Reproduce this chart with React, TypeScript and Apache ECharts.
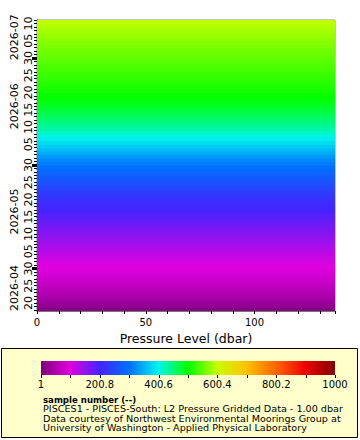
import React, { useEffect, useRef } from 'react';
import * as echarts from 'echarts';

// ---- data ----
// sample number per day row (day starts at 00:00 UTC)
const aprSamples = [1, 10, 22, 34, 44, 51, 58, 65, 72, 78, 84, 90, 95, 100]; // Apr 17..30
const maySamples = [106, 112, 118, 124, 130, 136, 142, 148, 154, 160, 166, 172, 178, 184, 190, 196, 202, 208, 214, 220, 229, 238, 247, 256, 265, 274, 283, 292, 301, 310, 319]; // May 1..31
const junSamples = [332, 345, 358, 371, 383, 395, 407, 419, 430, 439, 448, 456, 464, 472, 480, 487, 494, 500, 505, 510, 514, 518, 522, 526, 530, 534, 538, 542, 546, 550]; // Jun 1..30
const julSamples = [554, 558, 563, 567, 572, 576, 581, 585, 590, 595]; // Jul 1..10

const monthLabels = ['2026-04', '2026-05', '2026-06', '2026-07'];
const monthFirstDays = [17, 1, 1, 1];
const dayLabelDays = [5, 10, 15, 20, 25, 30];
const monthMarkDays = [30];

const pressureExtent = [0, 137];
const xTickLabels = [0, 50, 100];

const colorbarMin = 1;
const colorbarMax = 1000;
const colorbarLabels = ['1', '200.8', '400.6', '600.4', '800.2', '1000'];
const rainbowColors = ['#7e007e', '#e000e0', '#4424ff', '#0070ff', '#00f4ee', '#00ff00', '#c8ff00', '#ffc000', '#ff6400', '#f00000', '#800000'];

const colorbarTitle = 'sample number (--)';
const footerLines = [
  'PISCES1 - PISCES-South: L2 Pressure Gridded Data - 1.00 dbar',
  'Data courtesy of Northwest Environmental Moorings Group at',
  'University of Washington - Applied Physical Laboratory',
];

const DAY = 86400000;
const utc = (y: number, m: number, d: number, h = 0) => Date.UTC(y, m - 1, d, h);
const axisMin = utc(2026, 4, 17, 16);
const axisMax = utc(2026, 7, 11);

const FONT = 'DejaVu Sans';

export default function App() {
  const ref = useRef<HTMLDivElement>(null);

  useEffect(() => {
    if (!ref.current) return;
    const chart = echarts.init(ref.current, undefined, { renderer: 'svg' });

    const sampleSets = [aprSamples, maySamples, junSamples, julSamples];
    const rows: number[][] = [];
    monthLabels.forEach((lab, mi) => {
      const [y, m] = lab.split('-').map(Number);
      sampleSets[mi].forEach((s, i) => {
        const start = utc(y, m, monthFirstDays[mi] + i);
        rows.push([pressureExtent[0], pressureExtent[1], start, start + DAY, s]);
      });
    });

    const dayTicks = rows.map((r) => r[2]).filter((t) => t >= axisMin && t <= axisMax);
    dayTicks.push(axisMax);

    const labelTicks: number[] = [];
    const markTicks: number[] = [];
    const monthMids: number[] = [];
    monthLabels.forEach((lab) => {
      const [y, m] = lab.split('-').map(Number);
      const daysInMonth = new Date(Date.UTC(y, m, 0)).getUTCDate();
      dayLabelDays.forEach((d) => {
        const t = utc(y, m, d);
        if (d <= daysInMonth && t >= axisMin && t <= axisMax) labelTicks.push(t);
      });
      monthMarkDays.forEach((d) => {
        const t = utc(y, m, d);
        if (d <= daysInMonth && t >= axisMin && t <= axisMax) markTicks.push(t);
      });
      const s = Math.max(utc(y, m, 1), axisMin);
      const e = Math.min(utc(y, m + 1, 1), axisMax);
      monthMids.push((s + e) / 2);
    });

    // colorbar legend
    const cbX = 41, cbY = 361, cbW = 294, cbH = 14;
    const gradient = new echarts.graphic.LinearGradient(
      0, 0, 1, 0,
      rainbowColors.map((c, i) => ({ offset: i / (rainbowColors.length - 1), color: c }))
    );
    const cbValues = colorbarLabels.map(Number);
    const cbPos = (v: number) => cbX + ((v - colorbarMin) / (colorbarMax - colorbarMin)) * cbW;
    const cbTickVals: number[] = [];
    for (let i = 0; i < cbValues.length - 1; i++) {
      cbTickVals.push(cbValues[i], (cbValues[i] + cbValues[i + 1]) / 2);
    }
    cbTickVals.push(cbValues[cbValues.length - 1]);

    const graphic: any[] = [
      { type: 'rect', shape: { x: 1.5, y: 348.5, width: 356, height: 89 }, style: { fill: '#ffffcc', stroke: '#000', lineWidth: 1 } },
      { type: 'rect', shape: { x: cbX, y: cbY, width: cbW, height: cbH }, style: { fill: gradient } },
      ...cbTickVals.map((v) => ({
        type: 'line',
        shape: { x1: Math.round(cbPos(v)) + 0.5, y1: cbY + cbH, x2: Math.round(cbPos(v)) + 0.5, y2: cbY + cbH + 3 },
        style: { stroke: '#000', lineWidth: 1 },
      })),
      ...colorbarLabels.map((lab, i) => ({
        type: 'text',
        x: cbPos(cbValues[i]),
        y: 384,
        style: { text: lab, font: '10px "DejaVu Sans"', fill: '#000', align: 'center', verticalAlign: 'middle' },
      })),
      {
        type: 'text', x: 43, y: 399.5,
        style: { text: colorbarTitle, font: 'bold 8.6px "DejaVu Sans"', fill: '#000', align: 'left', verticalAlign: 'middle' },
      },
      ...footerLines.map((t, i) => ({
        type: 'text', x: 43, y: 409 + i * 9.2, scaleX: 1.07,
        style: { text: t, font: '9px "DejaVu Sans"', fill: '#000', align: 'left', verticalAlign: 'middle' },
      })),
    ];

    const fmtDay = (v: number) => {
      const d = new Date(v).getUTCDate();
      return (d < 10 ? '0' : '') + d;
    };
    const fmtMonth = (v: number) => {
      const dt = new Date(v);
      const m = dt.getUTCMonth() + 1;
      return dt.getUTCFullYear() + '-' + (m < 10 ? '0' : '') + m;
    };

    chart.setOption({
      animation: false,
      backgroundColor: '#ffffff',
      textStyle: { fontFamily: FONT },
      grid: { left: 37, top: 20, width: 298, height: 291, show: true, borderColor: '#888', borderWidth: 1, backgroundColor: 'transparent' },
      xAxis: {
        type: 'value',
        min: pressureExtent[0],
        max: pressureExtent[1],
        interval: 10,
        axisLine: { show: true, lineStyle: { color: '#777', width: 1 } },
        axisTick: { show: true, length: 3, lineStyle: { color: '#000' } },
        axisLabel: {
          fontSize: 10, color: '#000', margin: 6, fontFamily: FONT,
          formatter: (v: number) => (xTickLabels.includes(v) ? String(v) : ''),
        },
        splitLine: { show: false },
        name: 'Pressure Level (dbar)',
        nameLocation: 'middle',
        nameGap: 19,
        nameTextStyle: { fontSize: 12.5, color: '#000', fontFamily: FONT },
      },
      yAxis: [
        {
          type: 'value',
          min: axisMin,
          max: axisMax,
          position: 'left',
          axisLine: { show: true, lineStyle: { color: '#000', width: 1 } },
          axisTick: { show: true, length: 3, customValues: dayTicks, lineStyle: { color: '#000' } },
          axisLabel: { customValues: labelTicks, rotate: 90, fontSize: 11, color: '#000', margin: 3, fontFamily: FONT, formatter: fmtDay },
          splitLine: { show: false },
        },
        {
          type: 'value',
          min: axisMin,
          max: axisMax,
          position: 'left',
          axisLine: { show: false },
          axisTick: { show: true, length: 5, customValues: markTicks, lineStyle: { color: '#000', width: 3 } },
          axisLabel: { customValues: monthMids, rotate: 90, fontSize: 11, color: '#000', margin: 17, fontFamily: FONT, formatter: fmtMonth },
          splitLine: { show: false },
        },
      ],
      visualMap: {
        type: 'continuous',
        show: false,
        min: colorbarMin,
        max: colorbarMax,
        dimension: 4,
        seriesIndex: 0,
        inRange: { color: rainbowColors },
      },
      series: [
        {
          type: 'custom',
          clip: true,
          silent: true,
          encode: { x: [0, 1], y: [2, 3] },
          data: rows,
          renderItem: (params: any, api: any) => {
            const p0 = api.coord([api.value(0), api.value(2)]);
            const p1 = api.coord([api.value(1), api.value(3)]);
            return {
              type: 'rect',
              shape: { x: p0[0], y: p1[1] - 0.5, width: p1[0] - p0[0], height: p0[1] - p1[1] + 1 },
              style: { fill: api.visual('color') },
            };
          },
        },
      ],
      graphic,
    });

    return () => chart.dispose();
  }, []);

  return <div ref={ref} style={{ position: 'absolute', left: 0, top: 0, width: 360, height: 440, background: '#fff' }} />;
}
